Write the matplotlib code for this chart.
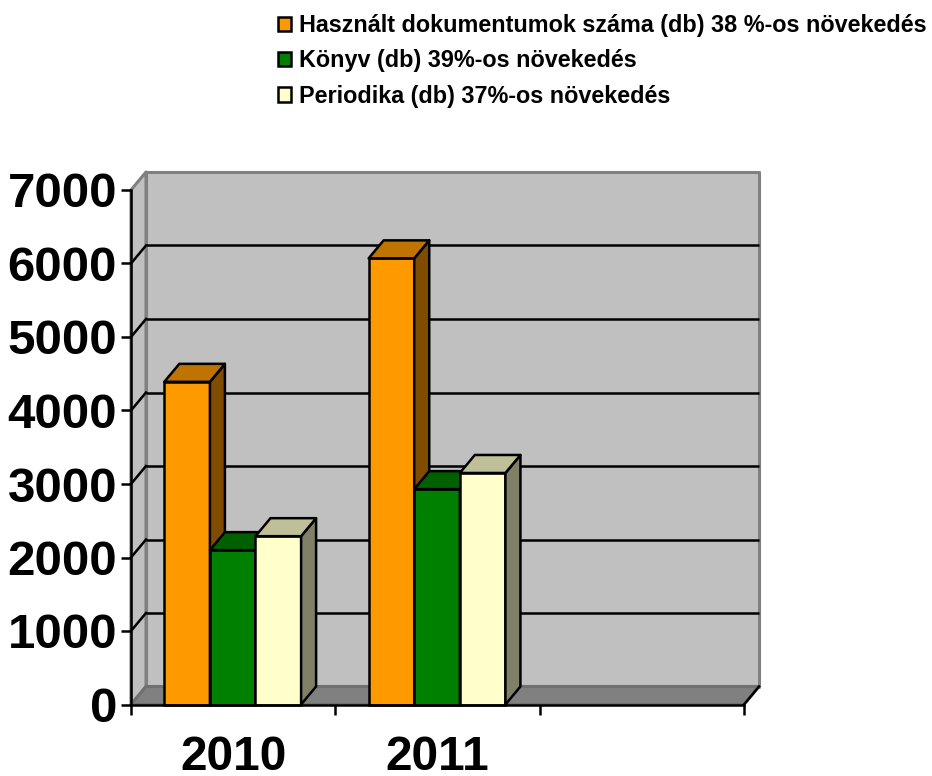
import matplotlib
matplotlib.use("Agg")
import matplotlib.pyplot as plt
from matplotlib.patches import Polygon, Patch

plt.rcParams["font.family"] = ["Liberation Sans", "DejaVu Sans"]
plt.rcParams["font.weight"] = "bold"

years = ["2010", "2011", ""]
y_ticks = [0, 1000, 2000, 3000, 4000, 5000, 6000, 7000]
series_names = [
    "Használt dokumentumok száma (db) 38 %-os növekedés",
    "Könyv (db) 39%-os növekedés",
    "Periodika (db) 37%-os növekedés",
]
hasznalt = [4390, 6070]
konyv = [2100, 2930]
periodika = [2290, 3150]

front_colors = ["#FF9900", "#008000", "#FFFFCC"]
top_colors = ["#BF7300", "#006000", "#BFBF99"]
side_colors = ["#804C00", "#004000", "#808066"]

W, H = 932, 776
fig = plt.figure(figsize=(W / 100, H / 100), dpi=100)
ax = fig.add_axes([131 / W, 1 - 704.5 / H, (744 - 131) / W, (704.5 - 190) / H])
ax.set_xlim(0, 3)
ax.set_ylim(0, 7000)

# depth of the 3d box, in data units
dx = 15 / (613 / 3)
dy = 18 / (514.5 / 7000)
LW = 1.8


def poly(points, color, edge="black", z=3, lw=LW):
    ax.add_patch(Polygon(points, closed=True, facecolor=color, edgecolor=edge,
                         linewidth=lw, joinstyle="round", clip_on=False, zorder=z))


# walls and floor
poly([(0, 0), (dx, dy), (dx, 7000 + dy), (0, 7000)], "#C0C0C0", "#808080", 1, 2.2)
poly([(dx, dy), (3 + dx, dy), (3 + dx, 7000 + dy), (dx, 7000 + dy)], "#C0C0C0", "#808080", 1, 2.2)
poly([(0, 0), (3, 0), (3 + dx, dy), (dx, dy)], "#808080", "#707070", 1, 2.2)

for t in y_ticks[1:-1]:
    ax.plot([dx, 3 + dx], [t + dy, t + dy], color="black", lw=LW, clip_on=False, zorder=2,
            solid_capstyle="butt")
    ax.plot([0, dx], [t, t + dy], color="black", lw=LW, clip_on=False, zorder=2)
ax.plot([3, 3 + dx], [0, dy], color="black", lw=LW, clip_on=False, zorder=2)

# bars
bar_w = 45.6 / (613 / 3)
start = 33.3 / (613 / 3)
z = 3
for i in range(2):
    for j, vals in enumerate([hasznalt, konyv, periodika]):
        x0 = i + start + j * bar_w
        x1 = x0 + bar_w
        v = vals[i]
        ax.bar(x0, v, width=bar_w, align="edge", color=front_colors[j], edgecolor="black",
               linewidth=LW, clip_on=False, zorder=z)
        poly([(x1, 0), (x1 + dx, dy), (x1 + dx, v + dy), (x1, v)], side_colors[j], z=z)
        poly([(x0, v), (x1, v), (x1 + dx, v + dy), (x0 + dx, v + dy)], top_colors[j], z=z)
        z += 1

ax.set_yticks(y_ticks)
ax.set_xticks([0, 1, 2, 3])
ax.set_xticklabels([])
ax.set_xticks([0.5, 1.5, 2.5], labels=years, minor=True)
ax.tick_params(axis="x", which="major", length=7.5, width=LW, direction="out")
ax.tick_params(axis="x", which="minor", length=0, labelsize=34.5, pad=22)
ax.tick_params(axis="y", length=7.5, width=LW, direction="out", labelsize=35.5, pad=2.5)
for lab in ax.get_xticklabels(minor=True) + ax.get_yticklabels():
    lab.set_fontweight("bold")
ax.patch.set_visible(False)
for s in ["top", "right"]:
    ax.spines[s].set_visible(False)
for s in ["left", "bottom"]:
    ax.spines[s].set_linewidth(LW)
    ax.spines[s].set_zorder(20)

handles = [Patch(facecolor=c, edgecolor="black", linewidth=LW) for c in front_colors]
fig.legend(handles, series_names, loc="upper left", bbox_to_anchor=(278 / W, 1 - 14 / H),
           frameon=False, fontsize=16.8, handlelength=0.56, handleheight=0.56,
           handletextpad=0.32, labelspacing=0.53, borderaxespad=0, borderpad=0)

fig.savefig("out.png", dpi=100)
